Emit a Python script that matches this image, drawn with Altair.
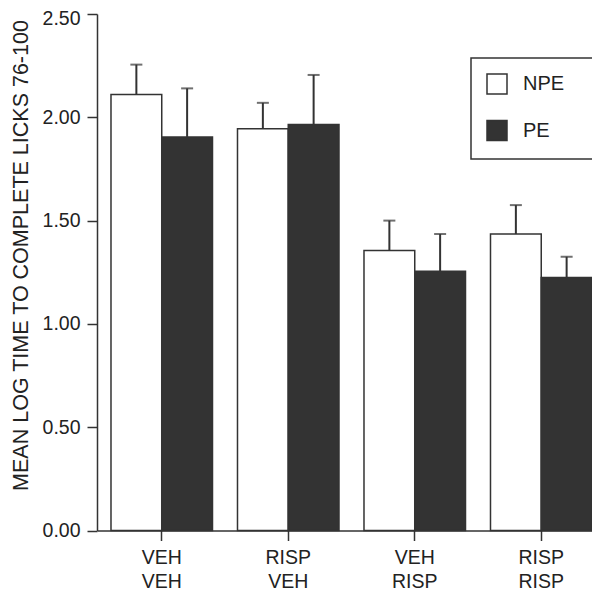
import altair as alt
import pandas as pd

groups = ["VEH VEH", "RISP VEH", "VEH RISP", "RISP RISP"]
series = ["NPE", "PE"]
npe_mean = [2.11, 1.945, 1.355, 1.435]
npe_sem = [0.145, 0.125, 0.145, 0.14]
pe_mean = [1.905, 1.965, 1.255, 1.225]
pe_sem = [0.235, 0.24, 0.18, 0.10]
y_ticks = [0.0, 0.5, 1.0, 1.5, 2.0, 2.5]

rows = []
for i, g in enumerate(groups):
    rows.append({"group": g, "series": "NPE", "mean": npe_mean[i], "top": npe_mean[i] + npe_sem[i]})
    rows.append({"group": g, "series": "PE", "mean": pe_mean[i], "top": pe_mean[i] + pe_sem[i]})
df = pd.DataFrame(rows)

FONT = "Liberation Sans"
INK = "#333333"
TEXT = "#222222"

x_enc = alt.X(
    "group:N", sort=groups, title=None,
    scale=alt.Scale(paddingInner=0.1976, paddingOuter=0.0553, align=1),
    axis=alt.Axis(
        labelExpr="split(datum.label, ' ')", labelAngle=0, labelFont=FONT,
        labelFontSize=19.5, labelLineHeight=23.5, labelColor=TEXT, labelPadding=8,
        tickSize=10, tickColor=INK, tickWidth=1.5, domainColor=INK, domainWidth=1.5,
    ),
)
xoff = alt.XOffset("series:N", sort=series, scale=alt.Scale(paddingInner=0, paddingOuter=0))

y_enc = alt.Y(
    "mean:Q",
    scale=alt.Scale(domain=[0, 2.5], nice=False, zero=True),
    axis=alt.Axis(
        values=y_ticks, format=".2f", grid=False,
        title="MEAN LOG TIME TO COMPLETE LICKS 76-100",
        titleFont=FONT, titleFontSize=21.5, titleFontWeight="normal", titleColor=TEXT,
        titlePadding=9.5, titleY=241,
        labelFont=FONT, labelFontSize=19.5, labelColor=TEXT, labelPadding=7,
        labelOffset={"condition": {"test": "datum.value == 2.5", "value": 4}, "value": 0},
        tickSize=10, tickColor=INK, tickWidth=1.5, domainColor=INK, domainWidth=1.5,
    ),
)

bars = alt.Chart(df).mark_bar(stroke=INK, strokeWidth=1.5).encode(
    x=x_enc,
    xOffset=xoff,
    y=y_enc,
    fill=alt.Fill(
        "series:N", sort=series,
        scale=alt.Scale(domain=series, range=["white", INK]),
        legend=alt.Legend(
            title=None, orient="none", legendX=374, legendY=44, padding=15,
            strokeColor=INK, symbolType="square", symbolSize=400,
            symbolStrokeColor=INK, symbolStrokeWidth=1.5,
            labelFont=FONT, labelFontSize=20, labelColor=TEXT, labelOffset=15,
            rowPadding=20.5,
            labelExpr="datum.label + '\u00a0\u00a0\u2009\u200b'",
        ),
    ),
)

rules = alt.Chart(df).mark_rule(color=INK, strokeWidth=2).encode(
    x=alt.X("group:N", sort=groups),
    xOffset=xoff,
    y="mean:Q",
    y2="top:Q",
)

caps = alt.Chart(df).mark_tick(color=INK, thickness=2, size=12).encode(
    x=alt.X("group:N", sort=groups),
    xOffset=xoff,
    y="top:Q",
)

chart = (
    alt.layer(bars, rules, caps)
    .properties(
        width=495, height=516.5,
        autosize=alt.AutoSizeParams(type="none"),
        padding={"left": 89, "top": 6, "right": 0, "bottom": 64},
        background="white",
    )
    .configure_view(stroke=None)
    .configure_legend(strokeWidth=1.5)
)

chart.save("out.html", embed_options={"renderer": "svg", "actions": False})
